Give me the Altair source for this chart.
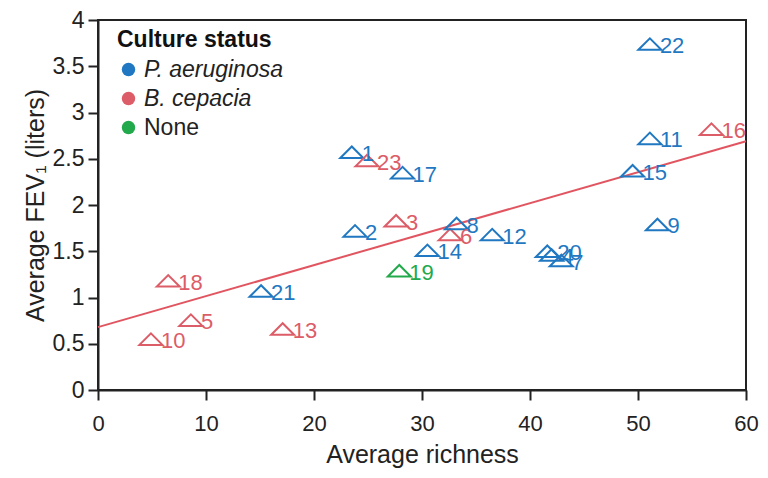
import altair as alt
import pandas as pd

# ---- data ----
patient = [1, 2, 3, 4, 5, 6, 7, 8, 9, 10, 11, 12, 13, 14, 15, 16, 17, 18, 19, 20, 21, 22, 23]
richness = [23.5, 23.8, 27.6, 42.0, 8.6, 32.6, 42.9, 33.2, 51.8, 4.9, 51.1, 36.5, 17.1,
            30.5, 49.5, 56.8, 28.2, 6.5, 27.9, 41.6, 15.1, 51.1, 24.9]
fev1 = [2.57, 1.72, 1.83, 1.46, 0.755, 1.68, 1.40, 1.80, 1.79, 0.55, 2.72, 1.68, 0.66,
        1.51, 2.37, 2.82, 2.35, 1.18, 1.29, 1.50, 1.07, 3.74, 2.48]
status = ["P. aeruginosa", "P. aeruginosa", "B. cepacia", "P. aeruginosa", "B. cepacia",
          "B. cepacia", "P. aeruginosa", "P. aeruginosa", "P. aeruginosa", "B. cepacia",
          "P. aeruginosa", "P. aeruginosa", "B. cepacia", "P. aeruginosa", "P. aeruginosa",
          "B. cepacia", "P. aeruginosa", "B. cepacia", "None", "P. aeruginosa",
          "P. aeruginosa", "P. aeruginosa", "B. cepacia"]

status_order = ["P. aeruginosa", "B. cepacia", "None"]
status_colors = ["#1f78c1", "#dc5c67", "#22a94b"]

fit_x = [0, 60]
fit_y = [0.68, 2.69]

df = pd.DataFrame({"id": patient, "richness": richness, "fev1": fev1, "status": status})
df["label"] = df["id"].astype(str)
fit = pd.DataFrame({"richness": fit_x, "fev1": fit_y})

FONT = "Liberation Sans"

xscale = alt.Scale(domain=[0, 60], nice=False)
yscale = alt.Scale(domain=[0, 4], nice=False)
cscale = alt.Scale(domain=status_order, range=status_colors)

xaxis = alt.Axis(values=[0, 10, 20, 30, 40, 50, 60], title="Average richness",
                 titleFontSize=25, labelFontSize=22, titlePadding=8, labelPadding=13,
                 labelFlush=False, grid=False, titleFontWeight="normal")
yaxis = alt.Axis(values=[0, 0.5, 1, 1.5, 2, 2.5, 3, 3.5, 4], format="~g",
                 title="Average FEV\u2081 (liters)",
                 titleFontSize=25, labelFontSize=23, titlePadding=4, labelPadding=4,
                 labelFlush=False, grid=False, titleFontWeight="normal")

X = alt.X("richness:Q", scale=xscale, axis=xaxis)
Y = alt.Y("fev1:Q", scale=yscale, axis=yaxis)

legend = alt.Legend(
    title="Culture status", orient="none", legendX=19, legendY=9,
    titleFontSize=23, titleFontWeight="bold", titleColor="#111", titleFont=FONT,
    labelFontSize=23, labelFont=FONT, labelColor="#222",
    labelFontStyle=alt.ExprRef(expr="datum.label == 'None' ? 'normal' : 'italic'"),
    symbolType="circle", symbolSize=180, symbolOpacity=1, symbolStrokeWidth=0,
    rowPadding=5, titlePadding=6, labelOffset=4,
)

# invisible filled circles: only provide the legend with filled dots
legend_layer = alt.Chart(df).mark_circle(opacity=0, size=1).encode(
    x=X, y=Y, color=alt.Color("status:N", scale=cscale, legend=legend)
)

line = alt.Chart(fit).mark_line(color="#e05560", strokeWidth=2).encode(x=X, y=Y)

tri = alt.Chart(df).mark_point(
    shape="M -1 0.5 L 0 -0.5 L 1 0.5 Z", size=529, filled=False, strokeWidth=2, opacity=1
).encode(
    x=X, y=Y, color=alt.Color("status:N", scale=cscale, legend=None),
)

labels = alt.Chart(df).mark_text(
    align="left", baseline="middle", dx=10, dy=2, fontSize=22, font=FONT
).encode(
    x=X, y=Y,
    color=alt.Color("status:N", scale=cscale, legend=None),
    text="label:N",
)

chart = alt.layer(legend_layer, line, tri, labels).properties(
    width=648, height=370,
    autosize=alt.AutoSizeParams(type="none"),
    padding={"left": 90, "top": 12, "right": 14, "bottom": 80},
    background="white",
).configure_view(
    stroke="#222", strokeWidth=2
).configure_axis(
    grid=False, domainColor="#222", domainWidth=2, tickColor="#222", tickWidth=2,
    tickSize=10, labelColor="#222", titleColor="#222", labelFont=FONT, titleFont=FONT,
    titleFontWeight="normal"
)

chart.save("out.html", embed_options={"renderer": "svg", "actions": False})
